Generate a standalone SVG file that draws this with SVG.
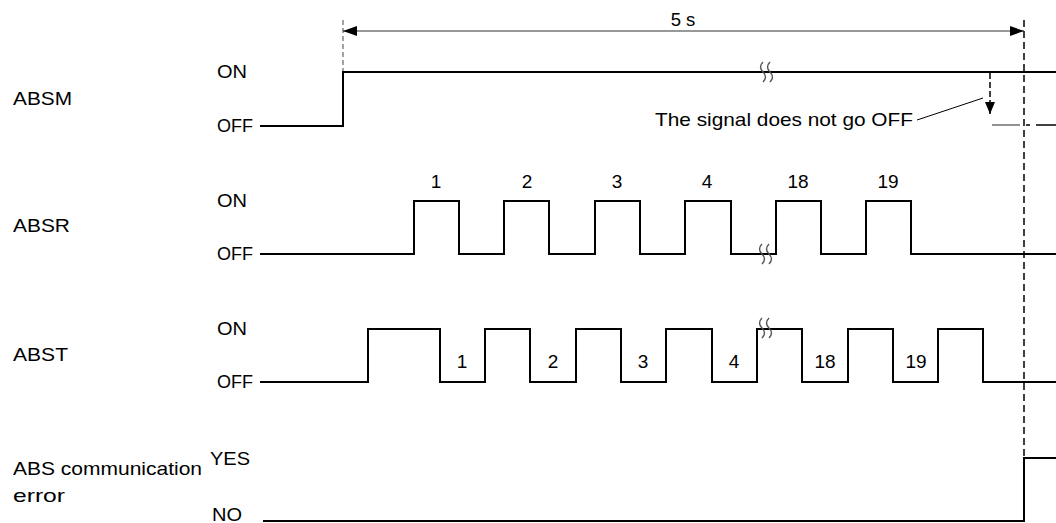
<svg xmlns="http://www.w3.org/2000/svg" width="1056" height="523" viewBox="0 0 1056 523">
<style>
text{font-family:"Liberation Sans",Arial,sans-serif;font-size:18.5px;fill:#000}
.num{text-anchor:middle;font-size:19px}
.sig{fill:none;stroke:#000;stroke-width:2}
.brk{fill:none;stroke:#555;stroke-width:1.4}
.dash{fill:none;stroke:#000;stroke-width:1.5;stroke-dasharray:7 4}
</style>
<defs>
<marker id="ah" viewBox="0 0 14 10" refX="14" refY="5" markerWidth="14" markerHeight="10" markerUnits="userSpaceOnUse" orient="auto-start-reverse">
<path d="M0,0 L14,5 L0,10 Z" fill="#000"/>
</marker>
<marker id="ad" viewBox="0 0 10 12" refX="5" refY="12" markerWidth="10" markerHeight="12" markerUnits="userSpaceOnUse" orient="0">
<path d="M0,0 L10,0 L5,12 Z" fill="#000"/>
</marker>
</defs>

<g id="labels">
<text x="13" y="105" textLength="59" lengthAdjust="spacingAndGlyphs">ABSM</text>
<text x="13" y="232" textLength="57" lengthAdjust="spacingAndGlyphs">ABSR</text>
<text x="13" y="361" textLength="55" lengthAdjust="spacingAndGlyphs">ABST</text>
<text x="13" y="475" textLength="189" lengthAdjust="spacingAndGlyphs">ABS communication</text>
<text x="13" y="502" textLength="52" lengthAdjust="spacingAndGlyphs">error</text>
<text x="217" y="78" textLength="30" lengthAdjust="spacingAndGlyphs">ON</text>
<text x="217" y="132" textLength="36" lengthAdjust="spacingAndGlyphs">OFF</text>
<text x="217" y="207" textLength="30" lengthAdjust="spacingAndGlyphs">ON</text>
<text x="217" y="260" textLength="36" lengthAdjust="spacingAndGlyphs">OFF</text>
<text x="217" y="335" textLength="30" lengthAdjust="spacingAndGlyphs">ON</text>
<text x="217" y="388" textLength="36" lengthAdjust="spacingAndGlyphs">OFF</text>
<text x="210" y="465" textLength="40" lengthAdjust="spacingAndGlyphs">YES</text>
<text x="212" y="521" textLength="30" lengthAdjust="spacingAndGlyphs">NO</text>
</g>

<g id="timing">
<line x1="343" y1="20" x2="343" y2="72" stroke="#666" stroke-width="1.2" stroke-dasharray="5 3"/>
<line x1="1024" y1="20" x2="1024" y2="458" class="dash"/>
<line x1="343" y1="31" x2="1024" y2="31" stroke="#333" stroke-width="1.2" marker-start="url(#ah)" marker-end="url(#ah)"/>
<text x="683" y="26" text-anchor="middle" font-size="19">5 s</text>
</g>

<g id="absm">
<polyline class="sig" points="260,126 343,126 343,72 1056,72"/>
<path class="brk" d="M763,62 q-5,5 0,10 q5,5 0,10 M770,62 q-5,5 0,10 q5,5 0,10"/>
<line x1="990" y1="73" x2="990" y2="114" stroke="#000" stroke-width="1.5" stroke-dasharray="6 3" marker-end="url(#ad)"/>
<line x1="992" y1="125" x2="1020" y2="125" stroke="#777" stroke-width="1.6"/>
<line x1="1026" y1="125" x2="1056" y2="125" stroke="#000" stroke-width="1.5" stroke-dasharray="4 6 18 0"/>
<line x1="917" y1="120" x2="983" y2="98" stroke="#000" stroke-width="1"/>
<text x="655" y="126" textLength="258" lengthAdjust="spacingAndGlyphs">The signal does not go OFF</text>
</g>

<g id="absr">
<polyline class="sig" points="260,254 414,254 414,201 459,201 459,254 504,254 504,201 549,201 549,254 595,254 595,201 640,201 640,254 685,254 685,201 731,201 731,254 776,254 776,201 821,201 821,254 866,254 866,201 911,201 911,254 1056,254"/>
<path class="brk" d="M762,244 q-5,5 0,10 q5,5 0,10 M769,244 q-5,5 0,10 q5,5 0,10"/>
<text class="num" x="436" y="188">1</text>
<text class="num" x="527" y="188">2</text>
<text class="num" x="617" y="188">3</text>
<text class="num" x="707" y="188">4</text>
<text class="num" x="798" y="188">18</text>
<text class="num" x="888" y="188">19</text>
</g>

<g id="abst">
<polyline class="sig" points="260,382 368,382 368,329 440,329 440,382 485,382 485,329 530,329 530,382 576,382 576,329 621,329 621,382 666,382 666,329 712,329 712,382 757,382 757,329 802,329 802,382 848,382 848,329 893,329 893,382 938,382 938,329 983,329 983,382 1056,382"/>
<path class="brk" d="M762,318 q-5,5 0,10 q5,5 0,10 M769,318 q-5,5 0,10 q5,5 0,10"/>
<text class="num" x="462" y="368">1</text>
<text class="num" x="553" y="368">2</text>
<text class="num" x="643" y="368">3</text>
<text class="num" x="734" y="368">4</text>
<text class="num" x="825" y="368">18</text>
<text class="num" x="916" y="368">19</text>
</g>

<g id="abserr">
<polyline class="sig" points="263,521 1024,521 1024,458 1056,458"/>
</g>
</svg>
